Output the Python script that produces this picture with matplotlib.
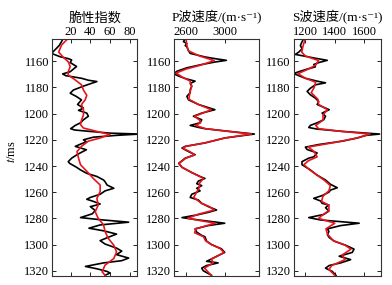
import numpy as np
import matplotlib.pyplot as plt

plt.rcParams['font.family'] = ['Liberation Serif', 'Noto Sans CJK SC', 'DejaVu Serif']
plt.rcParams['mathtext.fontset'] = 'stix'
plt.rcParams['font.size'] = 9

# 脆性指数 (black = measured, red = smoothed)
bi_t = [1142.5, 1145, 1148, 1154, 1156.5, 1158, 1159, 1161, 1164, 1168, 1169.7, 1171, 1173,
        1174.5, 1175.5, 1177.5, 1179, 1182, 1184.4, 1187, 1189.5, 1193, 1195.8, 1197.5, 1199.6,
        1202, 1204.7, 1207, 1209, 1211.5, 1212.5, 1213.6, 1214.9, 1215.6, 1216.6, 1218, 1220,
        1221.5, 1223, 1225, 1227.6, 1229.5, 1231.4, 1234, 1236.7, 1238, 1241, 1243, 1245.6,
        1248, 1250.7, 1252, 1254.5, 1257, 1259, 1261.6, 1264, 1265.4, 1267, 1269, 1270.5,
        1271, 1274, 1276.5, 1279.4, 1281, 1282.9, 1285, 1287.5, 1289.5, 1292, 1294.5, 1297,
        1299.6, 1302.7, 1305, 1307.7, 1310.3, 1312.3, 1314, 1316.7, 1318.5, 1320.5, 1321.7, 1323.5]
bi_black = [12.4, 10.7, 8.3, 0.5, 9, 17.5, 21, 19.5, 26, 19.5, 11.8, 15, 31,
            38, 46.7, 38.8, 33, 22.7, 19.5, 26, 31, 27, 33, 28, 36.4,
            38, 33, 30, 24.7, 20, 24, 40, 60, 90, 66.7, 43, 33,
            36, 31, 24.7, 36, 31, 26.4, 21, 17.5, 19, 26, 30, 36.4,
            46.7, 53.5, 55, 57, 63.9, 55, 50, 40, 36.4, 43, 50, 43,
            40, 45, 42, 30, 50, 79, 50, 38.6, 53.5, 66.7, 58, 50,
            55, 66.7, 72, 66.7, 79, 72, 53.5, 35, 46.7, 57, 60, 55]
bi_red_t = [1142.5, 1147.6, 1153, 1156.6, 1160.4, 1164, 1168, 1170.5, 1174.3, 1178, 1182,
            1186, 1189.5, 1193, 1197, 1201, 1205, 1208.4, 1211, 1213.6, 1216, 1218.6, 1221,
            1225, 1229, 1234, 1239, 1244, 1249.5, 1254.5, 1259.6, 1264.7, 1269.8, 1274.9,
            1280, 1285, 1290, 1295, 1300.5, 1305.6, 1310.7, 1315.7, 1320.8, 1323.5]
bi_red = [17.5, 10.7, 7.8, 12, 17.5, 19.5, 17.5, 17.5, 24.7, 31, 33,
          36.4, 34.7, 31, 33, 33, 31, 30, 33, 46.7, 60, 50, 38,
          31, 26.4, 28, 30, 36.4, 43, 50, 50, 46.7, 48, 45,
          48, 53.5, 55, 58, 63.9, 66.7, 63.9, 55, 52, 55]

# P波速度
vp_t = [1142.5, 1145, 1146.5, 1148, 1149, 1152, 1154, 1156.7, 1158, 1159.3, 1160.6, 1162.5,
        1165, 1167.6, 1169.5, 1171.3, 1173.2, 1175.2, 1177, 1179, 1181.7, 1184, 1186.8,
        1189.5, 1193, 1197, 1199.6, 1202, 1204.7, 1207, 1209, 1210.5, 1211.5, 1213.6, 1215.6,
        1216.6, 1218.6, 1222.4, 1225, 1226.3, 1229, 1231.4, 1234, 1238, 1241, 1245, 1248,
        1249.5, 1251.5, 1253.5, 1255, 1257, 1259, 1261.6, 1264, 1266, 1268.5, 1271, 1273.6,
        1275.4, 1277.4, 1279.4, 1281.2, 1283.7, 1285.5, 1288, 1290.5, 1293, 1294, 1297.4, 1300,
        1303.3, 1306, 1308.4, 1311, 1312.8, 1314, 1316, 1318, 1320, 1323.5]
vp_black = [2593, 2575, 2610, 2593, 2610, 2627, 2644, 2795, 2897, 3015, 2897, 2762,
            2610, 2509, 2475, 2525, 2593, 2694, 2644, 2660, 2644, 2644, 2610,
            2627, 2728, 2897, 2762, 2677, 2762, 2745, 2644, 2728, 2795, 3049, 3302,
            3200, 2998, 2795, 2593, 2560, 2627, 2694, 2593, 2526, 2560, 2660, 2745,
            2795, 2728, 2711, 2762, 2711, 2745, 2660, 2644, 2728, 2762, 2829, 2914,
            2829, 2711, 2560, 2728, 2998, 2829, 2694, 2711, 2762, 2795, 2812, 2863,
            2965, 2998, 2930, 2863, 2812, 2930, 2812, 2762, 2778, 2863]
vp_red_t = [1142.5, 1148, 1152, 1156, 1159.5, 1163, 1166, 1169, 1172, 1175, 1179, 1184,
            1189, 1193, 1197, 1200, 1202, 1205, 1207, 1209, 1211.5, 1213.6, 1215.6, 1218.6,
            1222.4, 1225, 1226.5, 1229, 1231.5, 1234, 1238, 1241, 1245, 1249.5, 1253, 1256,
            1260, 1264, 1268.5, 1271, 1273.6, 1277, 1280, 1283.7, 1288, 1291, 1294, 1297,
            1300, 1303, 1306, 1309, 1311, 1314, 1318, 1323.5]
vp_red = [2600, 2610, 2625, 2740, 2890, 2750, 2600, 2500, 2560, 2640, 2660, 2640,
          2630, 2728, 2860, 2760, 2690, 2740, 2750, 2700, 2800, 3040, 3270, 3000,
          2790, 2600, 2570, 2640, 2690, 2600, 2530, 2560, 2660, 2780, 2740, 2740,
          2710, 2680, 2760, 2840, 2890, 2720, 2620, 2900, 2700, 2690, 2780, 2800,
          2860, 2950, 2990, 2920, 2860, 2880, 2790, 2860]

# S波速度
vs_t = [1142.5, 1145, 1148, 1150.5, 1153, 1154.8, 1156, 1157.7, 1159.3, 1161, 1162.5, 1164.3,
        1166, 1168, 1169.4, 1171, 1173, 1175.2, 1176.5, 1178, 1180.6, 1183, 1185.6, 1188.2,
        1190.8, 1193, 1197, 1199.6, 1202, 1204.7, 1207, 1209, 1210.6, 1211.8, 1213.6, 1215.6,
        1216.6, 1218.6, 1221, 1223.6, 1225.6, 1227.4, 1230, 1233, 1234, 1236.7, 1239, 1243,
        1247, 1250.7, 1254, 1256.6, 1258.4, 1260, 1262.6, 1264.7, 1266.7, 1268.5, 1269.8,
        1271.8, 1274.4, 1277, 1279.4, 1281.2, 1283.7, 1285.5, 1288, 1290, 1292.5, 1294.6,
        1297.4, 1300.5, 1303.5, 1306, 1308.9, 1311.5, 1314, 1316, 1318, 1320.5, 1323.5]
vs_black = [1189, 1178, 1166, 1178, 1155, 1132, 1189, 1268, 1349, 1291, 1257, 1268,
            1212, 1155, 1121, 1155, 1200, 1280, 1337, 1268, 1234, 1212, 1234, 1268,
            1291, 1280, 1362, 1314, 1337, 1325, 1280, 1234, 1223, 1280, 1453, 1705,
            1613, 1554, 1453, 1291, 1200, 1212, 1280, 1257, 1223, 1177, 1177, 1234,
            1280, 1337, 1371, 1417, 1371, 1360, 1314, 1257, 1303, 1314, 1360,
            1337, 1360, 1325, 1223, 1303, 1566, 1440, 1350, 1360, 1350, 1362,
            1396, 1474, 1531, 1519, 1430, 1508, 1440, 1362, 1337, 1383, 1408]
vs_red_t = [1142.5, 1148, 1153, 1156, 1159.5, 1163, 1166, 1169.5, 1173, 1176, 1180, 1184,
            1189, 1193, 1197, 1201, 1205, 1209, 1211.5, 1213.6, 1215.6, 1218.6, 1222, 1225.5,
            1229, 1233, 1236, 1239, 1243, 1247, 1251, 1255, 1259, 1263, 1267, 1270, 1274,
            1278, 1280, 1283.7, 1288, 1292, 1297, 1300.5, 1303.5, 1308, 1311.5, 1316, 1319,
            1323.5]
vs_red = [1200, 1185, 1175, 1200, 1290, 1270, 1220, 1150, 1200, 1270, 1260, 1240,
          1285, 1290, 1350, 1320, 1320, 1270, 1290, 1450, 1640, 1550, 1400, 1220,
          1260, 1280, 1220, 1190, 1230, 1280, 1330, 1370, 1360, 1320, 1310, 1360, 1360,
          1310, 1290, 1400, 1340, 1350, 1390, 1470, 1510, 1450, 1470, 1380, 1360,
          1400]

titles = ['脆性指数', 'P波速度/(m·s⁻¹)', 'S波速度/(m·s⁻¹)']
xticks = [[20, 40, 60, 80], [2600, 3000], [1200, 1400, 1600]]
xlims = [(1, 88), (2478, 3350), (1120, 1712)]
lefts = [0.1327, 0.4439, 0.749]
widths = [0.218, 0.217, 0.222]
yticks = [1160, 1180, 1200, 1220, 1240, 1260, 1280, 1300, 1320]

series = [(bi_t, bi_black, bi_red_t, bi_red),
          (vp_t, vp_black, vp_red_t, vp_red),
          (vs_t, vs_black, vs_red_t, vs_red)]

fig = plt.figure(figsize=(3.92, 2.85), dpi=100)
for i in range(3):
    ax = fig.add_axes([lefts[i], 0.0316, widths[i], 0.8316])
    tb, xb, tr, xr = series[i]
    ax.plot(xb, tb, color='black', lw=1.2)
    ax.plot(xr, tr, color='#e8141b', lw=1.2)
    ax.set_xlim(*xlims[i])
    ax.set_ylim(1324, 1143)
    ax.set_yticks(yticks)
    ax.set_xticks(xticks[i])
    ax.xaxis.tick_top()
    ax.tick_params(direction='in', top=True, bottom=True, left=True, right=True,
                   length=3, width=0.6, pad=2, labelsize=9)
    ax.tick_params(axis='x', labelbottom=False, labeltop=True, pad=1)
    ax.set_title(titles[i], fontsize=9.5, pad=3)
    for s in ax.spines.values():
        s.set_linewidth(0.8)
        s.set_color('#333333')

fig.text(0.03, 0.47, r'$t$/ms', rotation=90, ha='center', va='center', fontsize=9)
fig.savefig('out.png', dpi=100)
